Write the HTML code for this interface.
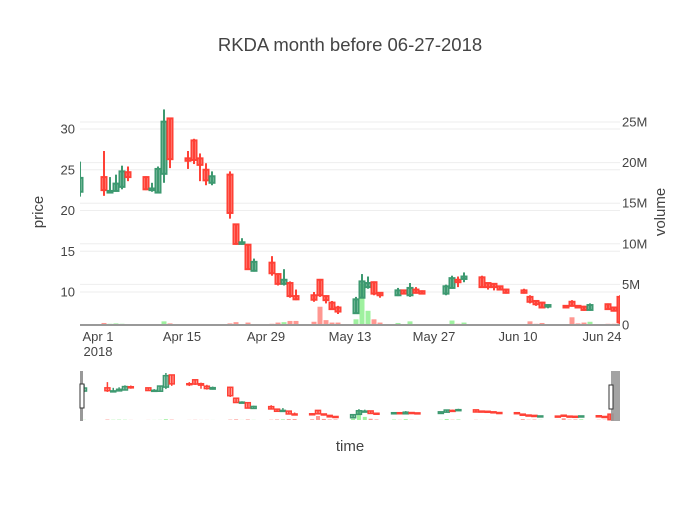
<!DOCTYPE html>
<html><head><meta charset="utf-8"><style>
body{margin:0;background:#fff;font-family:"Liberation Sans","DejaVu Sans",sans-serif;}
svg text{font-family:"Liberation Sans","DejaVu Sans",sans-serif;fill:#444;}
</style></head><body>
<svg id="chart" width="700" height="500" viewBox="0 0 700 500" xmlns="http://www.w3.org/2000/svg">
<defs>
<clipPath id="mainclip"><rect x="80" y="100" width="540" height="225"/></clipPath>
<clipPath id="sliderclip"><rect x="80" y="371" width="540" height="50"/></clipPath>
</defs>
<rect width="700" height="500" fill="#fff"/>
<text x="350" y="51" text-anchor="middle" font-size="18.5">RKDA month before 06-27-2018</text>
<g id="grid"></g>
<g id="vol" clip-path="url(#mainclip)"></g>
<g id="candles" clip-path="url(#mainclip)"></g>
<line x1="80" y1="325" x2="620" y2="325" stroke="#999" stroke-width="2"/>
<g id="yticks"></g>
<g id="xticks"></g>
<text transform="translate(43,212) rotate(-90)" text-anchor="middle" font-size="15">price</text>
<text transform="translate(665,212) rotate(-90)" text-anchor="middle" font-size="15">volume</text>
<g id="slider">
<g id="sliderplot" clip-path="url(#sliderclip)"></g>
<rect x="80" y="371" width="3" height="50" fill="#999"/>
<rect x="611" y="371" width="9" height="50" fill="#999" opacity="0.9"/>
<rect x="80" y="384" width="4" height="24" fill="#fff" stroke="#333" stroke-width="1"/>
<rect x="609" y="385" width="4" height="24" fill="#fff" stroke="#333" stroke-width="1"/>
</g>
<text x="350" y="451" text-anchor="middle" font-size="15">time</text>
</svg>
<script>
const dates=["03-29","04-02","04-03","04-04","04-05","04-06","04-09","04-10","04-11","04-12","04-13","04-16","04-17","04-18","04-19","04-20","04-23","04-24","04-25","04-26","04-27","04-30","05-01","05-02","05-03","05-04","05-07","05-08","05-09","05-10","05-11","05-14","05-15","05-16","05-17","05-18","05-21","05-22","05-23","05-24","05-25","05-29","05-30","05-31","06-01","06-04","06-05","06-06","06-07","06-08","06-11","06-12","06-13","06-14","06-15","06-18","06-19","06-20","06-21","06-22","06-25","06-26","06-27"];
const opens=[22.3,24.1,22.2,22.4,22.9,24.7,24.1,22.5,22.2,24.5,31.3,26.4,28.6,26.4,25.0,23.4,24.4,18.3,15.9,15.8,12.6,13.6,12.2,11.0,11.1,9.5,9.6,11.5,9.5,8.7,8.1,7.4,9.3,10.6,11.2,9.9,9.6,10.2,9.6,10.3,10.1,9.8,10.5,11.5,11.6,11.8,11.1,11.0,10.7,10.3,10.2,9.4,8.9,8.7,8.2,8.3,8.8,8.3,8.2,7.8,8.5,8.1,9.4];
const highs=[26.0,27.3,24.1,24.4,25.5,25.4,24.2,23.4,25.4,32.4,31.4,27.3,28.8,27.0,25.8,24.8,24.8,18.4,16.6,15.9,14.1,14.4,12.3,12.8,11.3,10.3,10.0,11.6,9.6,8.9,8.3,9.4,12.2,11.9,11.3,10.0,10.5,10.3,11.1,10.6,10.2,10.9,12.0,11.9,12.4,12.0,11.1,11.0,10.8,10.4,10.4,9.6,9.0,8.8,8.5,8.4,9.0,8.4,8.3,8.6,8.6,8.2,9.6];
const lows=[21.7,21.8,22.1,22.3,22.6,23.6,22.5,22.3,22.1,23.4,25.2,25.1,25.7,23.6,23.1,23.1,19.0,15.8,15.8,12.7,12.5,12.0,10.8,10.8,9.3,9.0,8.8,9.4,8.6,7.8,7.3,7.3,9.2,10.4,9.6,9.3,9.5,9.7,9.4,9.8,9.7,9.6,10.4,10.6,11.2,10.5,10.3,10.2,10.2,9.8,9.8,8.6,8.3,8.0,8.0,8.0,8.2,8.0,7.7,7.7,7.8,7.6,6.0];
const closes=[24.0,22.5,22.4,23.3,24.8,24.1,22.6,22.7,25.1,30.9,26.3,26.1,26.2,25.6,23.7,24.2,19.7,15.9,16.1,12.8,13.7,12.3,11.0,11.5,9.5,9.1,9.05,9.6,9.0,7.9,7.6,9.1,11.3,11.1,9.8,9.6,10.2,9.8,10.5,9.9,9.8,10.7,11.7,11.2,11.9,10.6,10.6,10.6,10.3,9.9,9.9,8.8,8.5,8.1,8.4,8.1,8.3,8.1,7.8,8.4,7.9,7.7,6.3];
const volumes=[0.1,0.25,0.15,0.2,0.15,0.05,0.05,0.05,0.1,0.45,0.2,0.05,0.1,0.05,0.05,0.03,0.2,0.35,0.05,0.3,0.08,0.15,0.3,0.35,0.5,0.5,0.4,2.25,0.6,0.3,0.3,0.7,5.1,1.75,0.7,0.3,0.25,0.1,0.45,0.1,0.05,0.1,0.55,0.15,0.3,0.1,0.05,0.05,0.05,0.05,0.05,0.45,0.15,0.25,0.1,0.05,0.95,0.2,0.3,0.4,0.15,0.15,3.5];
const priceTicks=[10,15,20,25,30];
const volTicks=[0,5,10,15,20,25];
const volTickLabels=["0","5M","10M","15M","20M","25M"];
const xTickDates=["04-01","04-15","04-29","05-13","05-27","06-10","06-24"];
const xTickLabels=["Apr 1","Apr 15","Apr 29","May 13","May 27","Jun 10","Jun 24"];

const NS="http://www.w3.org/2000/svg";
function mk(tag,attrs,parent){const e=document.createElementNS(NS,tag);for(const k in attrs)e.setAttribute(k,attrs[k]);parent.appendChild(e);return e;}
function dayIdx(s){const d=new Date("2018-"+s+"T00:00:00Z");return (d-Date.UTC(2018,2,29))/86400000;}
const xMain=d=>80+6*dayIdx(d);
const yPrice=p=>292-(p-10)*8.15;
const yVol=v=>325-v*8.12;
const xSl=d=>84+5.85*dayIdx(d);
const ySlP=p=>387.3+(24.4-p)*1.79;
const ySlV=v=>420-v*1.78;

const grid=document.getElementById('grid');
priceTicks.forEach(t=>{const l=mk('line',{x1:80,x2:620,y1:yPrice(t),y2:yPrice(t),stroke:'#eee','stroke-width':1},grid);

});
volTicks.forEach(t=>{if(t===0)return;const l=mk('line',{x1:80,x2:620,y1:yVol(t),y2:yVol(t),stroke:'#eee','stroke-width':1},grid);

});

const yt=document.getElementById('yticks');
priceTicks.forEach(t=>{const e=mk('text',{x:75,y:yPrice(t)+4.5,'text-anchor':'end','font-size':13},yt);e.textContent=t;

});
volTicks.forEach((t,i)=>{const e=mk('text',{x:622,y:yVol(t)+4.5,'text-anchor':'start','font-size':13},yt);e.textContent=volTickLabels[i];

});

const xt=document.getElementById('xticks');
xTickDates.forEach((d,i)=>{const e=mk('text',{x:xMain(d),y:341,'text-anchor':'middle','font-size':13},xt);e.textContent=xTickLabels[i];

});
const yr=mk('text',{x:xMain("04-01"),y:356,'text-anchor':'middle','font-size':13},xt);yr.textContent="2018";



const UP='#3D9970',DN='#FF4136';
const volG=document.getElementById('vol'),cG=document.getElementById('candles'),sG=document.getElementById('sliderplot');
dates.forEach((d,i)=>{
  const up=closes[i]>=opens[i];
  const col=up?UP:DN, fill=up?'rgba(61,153,112,0.5)':'rgba(255,65,54,0.5)';
  const vcol=up?'rgba(80,230,80,0.55)':'rgba(255,65,54,0.55)';
  const x=xMain(d);
  const vb=mk('rect',{x:x-2.5,y:yVol(volumes[i]),width:5,height:325-yVol(volumes[i]),fill:vcol},volG);
  
  
  const g=mk('g',{},cG);
  
  
  const top=yPrice(Math.max(opens[i],closes[i])),bot=yPrice(Math.min(opens[i],closes[i]));
  mk('line',{x1:x,x2:x,y1:yPrice(highs[i]),y2:yPrice(lows[i]),stroke:col,'stroke-width':2},g);
  mk('rect',{x:x-2.5,y:top,width:5,height:Math.max(bot-top,1),fill:fill,stroke:col,'stroke-width':2},g);
  const sx=xSl(d);
  const sv=mk('rect',{x:sx-2,y:ySlV(volumes[i]),width:4,height:420-ySlV(volumes[i]),fill:vcol},sG);
  
  
  const sg=mk('g',{},sG);
  
  
  const st=ySlP(Math.max(opens[i],closes[i])),sb=ySlP(Math.min(opens[i],closes[i]));
  mk('line',{x1:sx,x2:sx,y1:ySlP(highs[i]),y2:ySlP(lows[i]),stroke:col,'stroke-width':1.5},sg);
  mk('rect',{x:sx-2.5,y:st,width:5,height:Math.max(sb-st,1),fill:fill,stroke:col,'stroke-width':1.5},sg);
});
</script>
</body></html>
